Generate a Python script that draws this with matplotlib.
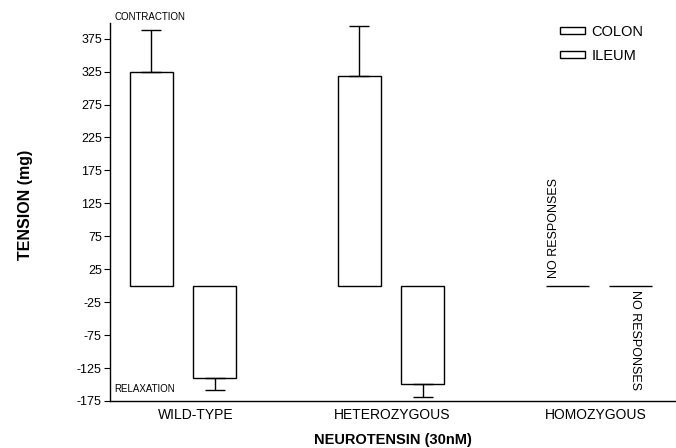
import numpy as np
import matplotlib.pyplot as plt

plt.rcParams['font.family'] = ['Liberation Sans', 'DejaVu Sans']
plt.rcParams['axes.unicode_minus'] = False

groups = ['WILD-TYPE', 'HETEROZYGOUS', 'HOMOZYGOUS']
colon_vals = [324, 319, 0]
colon_err = [64, 75, 0]
ileum_vals = [-140, -149, 0]
ileum_err = [19, 20, 0]
yticks = list(range(-175, 376, 50))

x = np.arange(len(groups))
off = 0.152
width = 0.206

fig = plt.figure(figsize=(6.76, 4.48), dpi=100)
ax = fig.add_axes([0.163, 0.105, 0.837, 0.844])

ax.bar(x - off, colon_vals, width, color='white', edgecolor='black', linewidth=1.0, label='COLON')
ax.bar(x + off, ileum_vals, width, color='white', edgecolor='black', linewidth=1.0, label='ILEUM')

# error bars only where there was a response
for i in range(len(groups)):
    if colon_err[i] > 0:
        ax.errorbar(x[i] - off, colon_vals[i], yerr=[[0], [colon_err[i]]], fmt='none',
                    ecolor='black', elinewidth=1.0, capsize=7.5, capthick=1.0)
    if ileum_err[i] > 0:
        ax.errorbar(x[i] + off, ileum_vals[i], yerr=[[ileum_err[i]], [0]], fmt='none',
                    ecolor='black', elinewidth=1.0, capsize=7.5, capthick=1.0)

ax.set_xlim(-0.35, 2.37)
ax.set_ylim(-175, 399)
ax.set_yticks(yticks)
ax.set_xticks(x + np.array([0.06, 0.005, -0.015]))
ax.set_xticklabels(groups, fontsize=10)
ax.tick_params(axis='x', length=0, pad=5)
ax.tick_params(axis='y', labelsize=9, length=4, width=0.8, pad=2)

for s in ['top', 'right']:
    ax.spines[s].set_visible(False)
ax.spines['left'].set_linewidth(1.0)
ax.spines['bottom'].set_linewidth(1.0)

ax.set_ylabel('TENSION (mg)', fontsize=11.5, fontweight='bold')
ax.yaxis.set_label_coords(-0.136, 0.518)
ax.set_xlabel('NEUROTENSIN (30nM)', fontsize=10.5, fontweight='bold', labelpad=8)

ax.text(-0.33, 401, 'CONTRACTION', fontsize=7, va='bottom', ha='left')
ax.text(-0.33, -157, 'RELAXATION', fontsize=7, va='center', ha='left')
ax.text(2 - off - width / 2 + 0.04, 12, 'NO RESPONSES', rotation=90, fontsize=9, ha='center', va='bottom')
ax.text(2 + off + 0.02, -6, 'NO RESPONSES', rotation=-90, fontsize=9, ha='center', va='top')

ax.legend(loc='upper right', bbox_to_anchor=(0.966, 1.03), frameon=False, fontsize=10.5,
          handlelength=1.7, handleheight=0.4, handletextpad=0.45, labelspacing=0.7)

fig.savefig('out.png', dpi=100)
